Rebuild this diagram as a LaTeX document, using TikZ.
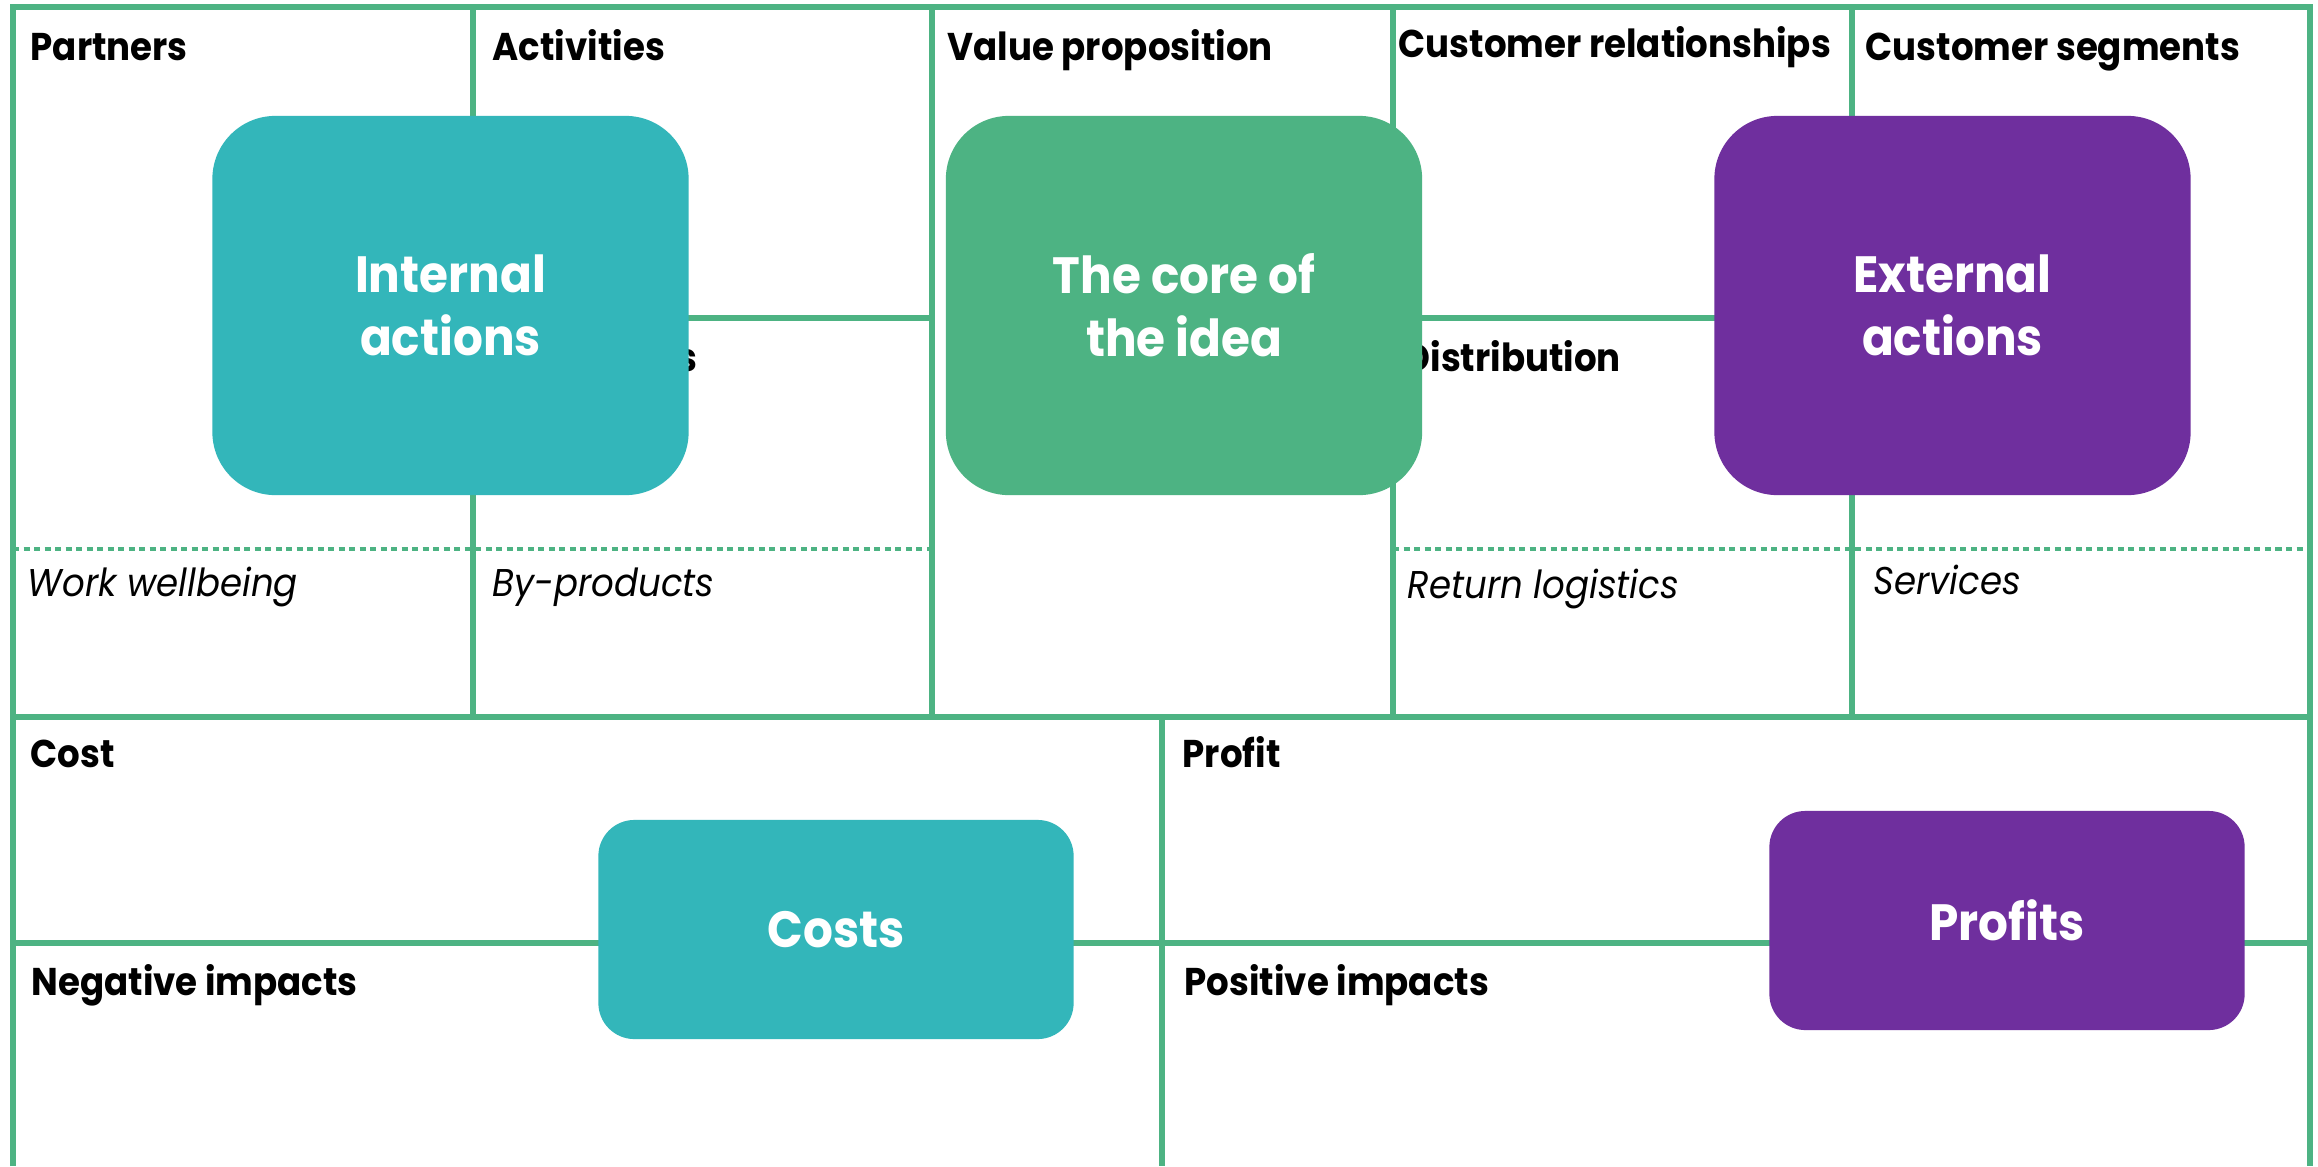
\documentclass[tikz,border=0pt]{standalone}
\usepackage{fontspec}
\setmainfont{Poppins}[FakeStretch=0.92]
\definecolor{mygreen}{HTML}{4DB383}
\definecolor{myteal}{HTML}{33B6BA}
\definecolor{mypurple}{HTML}{6F2F9E}
\tikzset{
  gridline/.style={draw=mygreen, line width=0.06cm},
  dotline/.style={draw=mygreen, line width=0.045cm, dash pattern=on 0.06cm off 0.045cm},
  lbl/.style={anchor=base west, inner sep=0pt, font=\fontsize{11pt}{13pt}\selectfont\bfseries, text=black},
  itl/.style={anchor=base west, inner sep=0pt, font=\fontsize{11pt}{13pt}\selectfont\itshape, text=black},
  bigbox/.style={rounded corners=0.63cm, inner sep=0pt, text=white, align=center,
    minimum width=4.76cm, minimum height=3.79cm, font=\fontsize{14.5pt}{18pt}\selectfont\bfseries},
  smallbox/.style={rounded corners=0.36cm, inner sep=0pt, text=white, align=center,
    minimum width=4.75cm, minimum height=2.19cm, font=\fontsize{14.5pt}{18pt}\selectfont\bfseries}
}
\begin{document}
\begin{tikzpicture}[x=0.01cm, y=-0.01cm]
\useasboundingbox (0,0) rectangle (2318,1166);
\fill[white] (0,0) rectangle (2318,1166);
% grid corners
\coordinate (tl) at (13,7);
\coordinate (tr) at (2310,7);
\coordinate (bl) at (13,1166);
\coordinate (br) at (2310,1166);
% frame
\draw[gridline] (bl) -- (tl) -- (tr) -- (br);
% top section columns
\foreach \xx in {473,932,1393,1852} { \draw[gridline] (\xx,7) -- (\xx,717); }
\draw[gridline] (13,717) -- (2310,717);
\draw[gridline] (13,943) -- (2310,943);
\draw[gridline] (1162,717) -- (1162,1166);
% splits
\draw[gridline] (473,318) -- (932,318);
\draw[gridline] (1393,318) -- (1852,318);
% dotted
\draw[dotline] (13,549) -- (932,549);
\draw[dotline] (1393,549) -- (2310,549);
% labels
\node[lbl] (partners) at (30,60) {Partners};
\node[lbl] (activities) at (492,60) {Activities};
\node[lbl] (valueprop) at (947,60) {Value proposition};
\node[lbl] (custrel) at (1398,57) {Customer relationships};
\node[lbl] (custseg) at (1865,60) {Customer segments};
\node[lbl] (resources) at (506,371) {Resources};
\node[lbl] (distribution) at (1404,371) {Distribution};
\node[itl] (work) at (27,596) {Work wellbeing};
\node[itl] (byprod) at (492,596) {By-products};
\node[itl] (retlog) at (1407,598) {Return logistics};
\node[itl] (services) at (1873,594) {Services};
\node[lbl] (cost) at (30,767) {Cost};
\node[lbl] (profit) at (1182,767) {Profit};
\node[lbl] (negimp) at (31,995) {Negative impacts};
\node[lbl] (posimp) at (1184,995) {Positive impacts};
% boxes
\node[bigbox, fill=myteal] (internal) at (450.5,305.5) {Internal\\actions};
\node[bigbox, fill=mygreen] (core) at (1184,305.5) {The core of\\the idea};
\node[bigbox, fill=mypurple] (external) at (1952.5,305.5) {External\\actions};
\node[smallbox, fill=myteal] (costs) at (836,929.5) {Costs};
\node[smallbox, fill=mypurple] (profits) at (2007,920.5) {Profits};
\end{tikzpicture}
\end{document}
